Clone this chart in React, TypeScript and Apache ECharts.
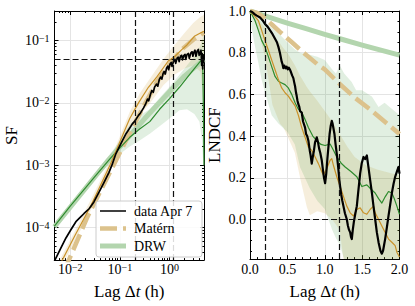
import React, { useEffect, useRef } from 'react';
import * as echarts from 'echarts';

const FONT = 'Liberation Serif, serif';

// ---------- Left panel: structure function (lag [h], SF) ----------
const sfData: [number, number][] = [
  [0.0048, 2.9e-5], [0.0052, 3.3e-5], [0.0065, 4.7e-5], [0.0082, 6.8e-5], [0.0103, 9.2e-5],
  [0.013, 1.24e-4], [0.0164, 1.49e-4], [0.019, 1.68e-4], [0.024, 2.0e-4], [0.03, 2.57e-4],
  [0.038, 3.7e-4], [0.048, 5.3e-4], [0.06, 7.6e-4], [0.07, 1.03e-3], [0.082, 1.49e-3],
  [0.095, 1.9e-3], [0.113, 2.5e-3], [0.13, 3.1e-3], [0.15, 3.7e-3], [0.178, 4.6e-3],
  [0.2, 5.1e-3], [0.237, 6.3e-3], [0.26, 6.9e-3], [0.3, 8.3e-3], [0.33, 9.6e-3],
  [0.36, 0.0115], [0.38, 0.0108], [0.41, 0.0135], [0.44, 0.0158], [0.47, 0.0148],
  [0.5, 0.018], [0.55, 0.02], [0.58, 0.0185], [0.62, 0.0235], [0.66, 0.026], [0.7, 0.024],
  [0.74, 0.0295], [0.78, 0.032], [0.82, 0.029], [0.87, 0.036], [0.92, 0.039], [0.96, 0.034],
  [1.02, 0.042], [1.08, 0.0445], [1.12, 0.0385], [1.2, 0.046], [1.28, 0.05], [1.33, 0.043],
  [1.42, 0.052], [1.5, 0.054], [1.56, 0.046], [1.66, 0.056], [1.76, 0.058], [1.82, 0.049],
  [1.95, 0.058], [2.05, 0.06], [2.12, 0.05], [2.25, 0.06], [2.4, 0.062], [2.5, 0.052],
  [2.7, 0.064], [2.85, 0.066], [2.95, 0.056], [3.1, 0.065], [3.25, 0.07], [3.4, 0.056],
  [3.6, 0.068], [3.8, 0.072], [3.95, 0.058], [4.15, 0.064], [4.3, 0.07], [4.45, 0.04],
  [4.55, 0.062], [4.65, 0.035], [4.75, 0.058], [4.85, 0.045], [4.94, 0.055],
];
const sfMaternMedian: [number, number][] = [
  [0.0048, 1.7e-5], [0.0063, 2.6e-5], [0.0126, 7.6e-5], [0.026, 2.24e-4], [0.063, 1.0e-3],
  [0.158, 5.6e-3], [0.237, 0.01], [0.375, 0.0178], [0.56, 0.0263], [0.94, 0.047],
  [1.26, 0.055], [1.74, 0.0708], [2.24, 0.085], [3.16, 0.117], [4.0, 0.13], [4.94, 0.141],
];
const sfMaternModel: [number, number][] = [
  [0.0075, 2.0e-5], [0.00955, 3.1e-5], [0.0223, 1.49e-4], [0.0479, 5.0e-4], [0.1637, 3.47e-3],
  [0.316, 9.5e-3], [0.562, 0.0219], [1.0, 0.0417], [1.778, 0.0724], [3.16, 0.107], [4.94, 0.133],
];
const sfDrwMedian: [number, number][] = [
  [0.0048, 1.05e-4], [0.01, 2.2e-4], [0.0316, 6.6e-4], [0.063, 1.26e-3], [0.1, 1.9e-3],
  [0.158, 2.8e-3], [0.25, 3.8e-3], [0.4, 5.0e-3], [0.63, 7.9e-3], [1.0, 0.0117],
  [1.58, 0.0178], [2.24, 0.0251], [3.16, 0.0355], [4.0, 0.0447], [4.55, 0.05],
  [4.7, 0.03], [4.8, 0.008], [4.94, 0.001],
];
const sfDrwModel: [number, number][] = [
  [0.0048, 1.03e-4], [0.0603, 1.24e-3], [0.316, 5.6e-3], [1.0, 0.0151], [2.0, 0.0269], [4.94, 0.05],
];
// [lag, lower, upper]
const sfMaternBand: [number, number, number][] = [
  [0.0048, 1.45e-5, 2.09e-5], [0.01, 4.37e-5, 6.3e-5], [0.025, 1.78e-4, 2.63e-4],
  [0.063, 7.9e-4, 1.17e-3], [0.158, 4.2e-3, 7.2e-3], [0.25, 6.3e-3, 0.0141],
  [0.41, 0.01, 0.0251], [0.75, 0.0191, 0.0501], [1.26, 0.0282, 0.0851], [2.0, 0.0355, 0.132],
  [3.0, 0.0398, 0.191], [4.2, 0.0316, 0.24], [4.6, 0.0158, 0.251], [4.94, 0.005, 0.263],
];
const sfDrwBand: [number, number, number][] = [
  [0.0048, 9.5e-5, 1.15e-4], [0.01, 2.0e-4, 2.4e-4], [0.0316, 5.9e-4, 7.4e-4],
  [0.063, 1.07e-3, 1.48e-3], [0.1, 1.51e-3, 2.5e-3], [0.158, 2.0e-3, 4.5e-3],
  [0.25, 2.5e-3, 6.3e-3], [0.4, 3.2e-3, 7.9e-3], [0.63, 4.2e-3, 0.012], [1.0, 5.6e-3, 0.0182],
  [1.58, 7.6e-3, 0.0282], [2.24, 7.9e-3, 0.0398], [3.16, 6.6e-3, 0.0562], [4.0, 5.0e-3, 0.0759],
  [4.5, 2.5e-3, 0.1], [4.94, 6.3e-4, 0.126],
];
const sfRefLags = [0.2, 1.2];
const sfRefLevel = 0.0533;

// ---------- Right panel: LNDCF (lag [h], value) ----------
const dcfData: [number, number][] = [
  [0, 1.0], [0.03, 0.995], [0.06, 0.985], [0.09, 0.978], [0.134, 0.969], [0.17, 0.955],
  [0.2, 0.938], [0.235, 0.925], [0.268, 0.907], [0.3, 0.89], [0.335, 0.867], [0.36, 0.85],
  [0.38, 0.828], [0.4, 0.8], [0.424, 0.757], [0.435, 0.745], [0.446, 0.726], [0.46, 0.738],
  [0.475, 0.725], [0.49, 0.733], [0.505, 0.72], [0.52, 0.728], [0.536, 0.718], [0.55, 0.705],
  [0.565, 0.69], [0.58, 0.678], [0.59, 0.66], [0.603, 0.639], [0.615, 0.61], [0.625, 0.592],
  [0.635, 0.57], [0.647, 0.553], [0.66, 0.54], [0.67, 0.52], [0.692, 0.513], [0.71, 0.47],
  [0.737, 0.441], [0.75, 0.41], [0.765, 0.4], [0.781, 0.378], [0.8, 0.33], [0.81, 0.31],
  [0.826, 0.268], [0.84, 0.3], [0.855, 0.33], [0.87, 0.37], [0.893, 0.394], [0.91, 0.37],
  [0.925, 0.34], [0.94, 0.32], [0.96, 0.284], [0.975, 0.24], [0.99, 0.2], [1.005, 0.174],
  [1.02, 0.22], [1.035, 0.29], [1.049, 0.347], [1.065, 0.41], [1.08, 0.45], [1.094, 0.473],
  [1.105, 0.46], [1.115, 0.44], [1.13, 0.41], [1.145, 0.36], [1.161, 0.315], [1.18, 0.25],
  [1.195, 0.19], [1.206, 0.158], [1.22, 0.12], [1.235, 0.09], [1.25, 0.064], [1.27, 0.03],
  [1.295, 0.001], [1.31, -0.03], [1.325, -0.05], [1.34, -0.062], [1.352, -0.085], [1.362, -0.094],
  [1.375, -0.05], [1.39, -0.01], [1.41, 0.03], [1.429, 0.064], [1.45, 0.14], [1.474, 0.221],
  [1.495, 0.27], [1.518, 0.3], [1.54, 0.29], [1.563, 0.307], [1.585, 0.25], [1.607, 0.19],
  [1.63, 0.13], [1.652, 0.064], [1.675, 0.0], [1.697, -0.062], [1.72, -0.11], [1.745, -0.15],
  [1.764, -0.164], [1.78, -0.15], [1.795, -0.12], [1.808, -0.094], [1.83, -0.04], [1.853, 0.017],
  [1.875, 0.07], [1.898, 0.127], [1.92, 0.17], [1.942, 0.205], [1.965, 0.23], [1.987, 0.252], [2.0, 0.22],
];
const dcfMaternMedian: [number, number][] = [
  [0, 1.0], [0.05, 0.98], [0.112, 0.954], [0.156, 0.907], [0.2, 0.859], [0.246, 0.812],
  [0.29, 0.765], [0.335, 0.718], [0.38, 0.671], [0.424, 0.631], [0.469, 0.608], [0.513, 0.592],
  [0.558, 0.568], [0.603, 0.545], [0.647, 0.5], [0.692, 0.441], [0.737, 0.394], [0.781, 0.347],
  [0.826, 0.331], [0.871, 0.3], [0.915, 0.268], [0.96, 0.229], [0.982, 0.213], [1.027, 0.244],
  [1.072, 0.284], [1.094, 0.292], [1.116, 0.26], [1.161, 0.205], [1.206, 0.158], [1.25, 0.111],
  [1.295, 0.064], [1.34, 0.032], [1.384, 0.017], [1.429, 0.048], [1.474, 0.056], [1.518, 0.032],
  [1.563, 0.025], [1.607, 0.048], [1.652, 0.064], [1.674, 0.032], [1.719, 0.001], [1.764, -0.031],
  [1.808, -0.062], [1.853, -0.094], [1.898, -0.109], [1.942, -0.125], [1.965, -0.157], [2.0, -0.18],
];
const dcfDrwMedian: [number, number][] = [
  [0, 1.0], [0.067, 0.954], [0.112, 0.907], [0.156, 0.859], [0.2, 0.828], [0.246, 0.781],
  [0.29, 0.733], [0.335, 0.686], [0.38, 0.663], [0.424, 0.655], [0.469, 0.647], [0.513, 0.631],
  [0.558, 0.6], [0.603, 0.56], [0.647, 0.529], [0.692, 0.513], [0.737, 0.48], [0.781, 0.441],
  [0.84, 0.4], [0.893, 0.378], [0.95, 0.36], [1.005, 0.355], [1.072, 0.362], [1.12, 0.33],
  [1.161, 0.3], [1.22, 0.27], [1.273, 0.252], [1.35, 0.23], [1.429, 0.205], [1.496, 0.158],
  [1.563, 0.166], [1.62, 0.145], [1.674, 0.127], [1.72, 0.1], [1.764, 0.079], [1.81, 0.11],
  [1.853, 0.134], [1.898, 0.127], [1.93, 0.1], [1.965, 0.064], [2.0, 0.025],
];
const dcfMaternModel: [number, number][] = [
  [0, 1.0], [0.1, 0.99], [0.2, 0.965], [0.3, 0.933], [0.4, 0.9], [0.56, 0.85], [0.7, 0.805],
  [0.9, 0.745], [1.0, 0.72], [1.2, 0.65], [1.4, 0.585], [1.6, 0.53], [1.8, 0.47], [2.0, 0.41],
];
const dcfDrwModel: [number, number][] = [
  [0, 1.0], [0.25, 0.971], [0.5, 0.942], [0.75, 0.915], [1.0, 0.888], [1.25, 0.862],
  [1.5, 0.836], [1.75, 0.812], [2.0, 0.788],
];
const dcfMaternBand: [number, number, number][] = [
  [0, 1, 1], [0.05, 0.96, 0.99], [0.1, 0.92, 0.965], [0.2, 0.78, 0.92], [0.3, 0.55, 0.885],
  [0.4, 0.46, 0.845], [0.45, 0.44, 0.82], [0.5, 0.4, 0.8], [0.6, 0.32, 0.74], [0.67, 0.2, 0.69],
  [0.76, 0.06, 0.635], [0.8, 0.02, 0.615], [0.9, 0.04, 0.57], [1.0, 0.03, 0.52], [1.1, 0.0, 0.47],
  [1.2, -0.05, 0.41], [1.25, -0.19, 0.38], [1.3, -0.19, 0.35], [1.4, -0.19, 0.3],
  [1.55, -0.19, 0.26], [1.7, -0.19, 0.24], [1.9, -0.19, 0.22], [2.0, -0.19, 0.215],
];
const dcfDrwBand: [number, number, number][] = [
  [0, 1, 1], [0.022, 0.92, 0.995], [0.067, 0.83, 0.98], [0.112, 0.75, 0.965], [0.156, 0.67, 0.955],
  [0.2, 0.61, 0.944], [0.29, 0.5, 0.92], [0.38, 0.46, 0.893], [0.5, 0.42, 0.85], [0.6, 0.36, 0.815],
  [0.67, 0.25, 0.8], [0.8, 0.15, 0.79], [0.9, 0.09, 0.78], [1.0, 0.05, 0.765], [1.1, -0.05, 0.72],
  [1.15, -0.09, 0.7], [1.2, -0.12, 0.74], [1.26, -0.19, 0.7], [1.36, -0.19, 0.66],
  [1.42, -0.19, 0.62], [1.5, -0.19, 0.62], [1.63, -0.19, 0.59], [1.72, -0.19, 0.54],
  [1.8, -0.19, 0.56], [1.9, -0.19, 0.53], [2.0, -0.19, 0.5],
];
const dcfRefLags = [0.2, 1.2];
const dcfRefLevel = 0.0;

// ---------- Ticks ----------
const sfXMajor = [0.01, 0.1, 1];
const sfYMajor = [1e-4, 1e-3, 1e-2, 1e-1];
const sfXMinor = [0.006, 0.007, 0.008, 0.009, 0.02, 0.03, 0.04, 0.05, 0.06, 0.07, 0.08, 0.09,
  0.2, 0.3, 0.4, 0.5, 0.6, 0.7, 0.8, 0.9, 2, 3, 4];
const sfYMinor = [4e-5, 5e-5, 6e-5, 7e-5, 8e-5, 9e-5, 2e-4, 3e-4, 4e-4, 5e-4, 6e-4, 7e-4, 8e-4, 9e-4,
  2e-3, 3e-3, 4e-3, 5e-3, 6e-3, 7e-3, 8e-3, 9e-3, 0.02, 0.03, 0.04, 0.05, 0.06, 0.07, 0.08, 0.09, 0.2];
const dcfXMajor = [0, 0.5, 1.0, 1.5, 2.0];
const dcfYMajor = [0, 0.2, 0.4, 0.6, 0.8, 1.0];
const dcfXMinor = [0.1, 0.2, 0.3, 0.4, 0.6, 0.7, 0.8, 0.9, 1.1, 1.2, 1.3, 1.4, 1.6, 1.7, 1.8, 1.9];
const dcfYMinor = [-0.15, -0.1, -0.05, 0.05, 0.1, 0.15, 0.25, 0.3, 0.35, 0.45, 0.5, 0.55,
  0.65, 0.7, 0.75, 0.85, 0.9, 0.95];

const SF_X = [0.00483, 4.94];
const SF_Y = [3.0e-5, 0.298];
const DCF_X = [0, 2];
const DCF_Y = [-0.19, 1.0];

const C_DATA = '#000000';
const C_MAT_LINE = '#c9922a';
const C_MAT_MODEL = '#dcc28c';
const C_MAT_BAND = 'rgba(200, 150, 40, 0.16)';
const C_DRW_LINE = '#2e8b2e';
const C_DRW_MODEL = '#b3d5ae';
const C_DRW_BAND = 'rgba(40, 140, 40, 0.14)';
const C_GRID = '#e4e4e4';

const logFmt = (v: number) => {
  const e = Math.round(Math.log10(v));
  return `{b|10}{s|${e < 0 ? '\u2212' + -e : e}}`;
};
const logRich = {
  b: { fontFamily: FONT, fontSize: 14, color: '#000', lineHeight: 14 },
  s: { fontFamily: FONT, fontSize: 10, color: '#000', lineHeight: 5, verticalAlign: 'top' },
};
const nameRich = {
  n: { fontFamily: FONT, fontSize: 17, color: '#000', lineHeight: 20 },
  i: { fontFamily: FONT, fontSize: 17, color: '#000', lineHeight: 20, fontStyle: 'italic' },
};

function mainAxis(o: any) {
  const isLog = o.type === 'log';
  return {
    type: o.type,
    logBase: isLog ? 10 : undefined,
    gridIndex: o.grid,
    position: o.position,
    min: o.min,
    max: o.max,
    name: o.name,
    nameLocation: 'middle',
    nameGap: o.nameGap,
    nameTextStyle: { rich: nameRich, fontFamily: FONT, fontSize: 17, color: '#000', lineHeight: 20 },
    axisLine: { show: true, onZero: false, lineStyle: { color: '#000', width: 1 } },
    axisTick: { show: true, inside: true, length: 4, customValues: o.major, lineStyle: { color: '#000', width: 1 } },
    axisLabel: {
      show: true,
      customValues: o.major,
      margin: o.margin,
      formatter: isLog ? logFmt : (v: number) => v.toFixed(1),
      rich: isLog ? logRich : undefined,
      fontFamily: FONT,
      fontSize: 14,
      color: '#000',
      showMinLabel: true,
      showMaxLabel: true,
    },
    splitLine: { show: true, lineStyle: { color: C_GRID, width: 1 } },
    minorTick: { show: false },
  };
}

function tickAxis(o: any) {
  return {
    type: o.type,
    logBase: o.type === 'log' ? 10 : undefined,
    gridIndex: o.grid,
    position: o.position,
    min: o.min,
    max: o.max,
    axisLine: { show: !!o.line, onZero: false, lineStyle: { color: '#000', width: 1 } },
    axisTick: { show: true, inside: true, length: o.len, customValues: o.values, lineStyle: { color: '#000', width: 1 } },
    axisLabel: { show: false },
    splitLine: { show: false },
  };
}

function bandSeries(band: [number, number, number][], color: string, xi: number, yi: number) {
  return {
    type: 'custom',
    xAxisIndex: xi,
    yAxisIndex: yi,
    silent: true,
    clip: true,
    z: 1,
    data: band,
    encode: { x: 0, y: [1, 2] },
    renderItem: (params: any, api: any) => {
      if (params.dataIndex !== 0) return { type: 'group', children: [] };
      const upper = band.map((d) => api.coord([d[0], d[2]]));
      const lower = band.map((d) => api.coord([d[0], d[1]])).reverse();
      const cs = params.coordSys;
      return {
        type: 'polygon',
        shape: { points: upper.concat(lower) },
        style: { fill: color },
        clipPath: { type: 'rect', shape: { x: cs.x, y: cs.y, width: cs.width, height: cs.height } },
      };
    },
  };
}

function lineSeries(data: [number, number][], color: string, width: number, xi: number, yi: number, z: number, dash?: number[], extra?: any) {
  return {
    type: 'line',
    xAxisIndex: xi,
    yAxisIndex: yi,
    data,
    symbol: 'none',
    silent: true,
    z,
    lineStyle: { color, width, type: dash || 'solid', cap: 'butt', join: 'round' },
    ...(extra || {}),
  };
}

function refLines(lags: number[], level: number) {
  return {
    silent: true,
    symbol: ['none', 'none'],
    label: { show: false },
    lineStyle: { color: '#111', width: 1.2, type: [6, 3] },
    data: [...lags.map((x) => ({ xAxis: x })), { yAxis: level }],
  };
}

const LG = { x: 96, y: 201, w: 106, h: 56 };

function buildOption() {
  return {
    animation: false,
    backgroundColor: '#fff',
    textStyle: { fontFamily: FONT },
    grid: [
      { left: 53.5, top: 11, width: 150.5, height: 253 },
      { left: 250, top: 11, width: 149.5, height: 253 },
    ],
    xAxis: [
      mainAxis({ type: 'log', grid: 0, position: 'bottom', min: SF_X[0], max: SF_X[1], major: sfXMajor, margin: 2,
        name: '{n|Lag \u0394}{i|t}{n| (h)}', nameGap: 17 }),
      tickAxis({ type: 'log', grid: 0, position: 'top', min: SF_X[0], max: SF_X[1], values: sfXMajor, len: 4, line: true }),
      tickAxis({ type: 'log', grid: 0, position: 'bottom', min: SF_X[0], max: SF_X[1], values: sfXMinor, len: 2 }),
      tickAxis({ type: 'log', grid: 0, position: 'top', min: SF_X[0], max: SF_X[1], values: sfXMinor, len: 2 }),
      mainAxis({ type: 'value', grid: 1, position: 'bottom', min: DCF_X[0], max: DCF_X[1], major: dcfXMajor, margin: 3,
        name: '{n|Lag \u0394}{i|t}{n| (h)}', nameGap: 17 }),
      tickAxis({ type: 'value', grid: 1, position: 'top', min: DCF_X[0], max: DCF_X[1], values: dcfXMajor, len: 4, line: true }),
      tickAxis({ type: 'value', grid: 1, position: 'bottom', min: DCF_X[0], max: DCF_X[1], values: dcfXMinor, len: 2 }),
      tickAxis({ type: 'value', grid: 1, position: 'top', min: DCF_X[0], max: DCF_X[1], values: dcfXMinor, len: 2 }),
    ],
    yAxis: [
      mainAxis({ type: 'log', grid: 0, position: 'left', min: SF_Y[0], max: SF_Y[1], major: sfYMajor, margin: 5,
        name: 'SF', nameGap: 31 }),
      tickAxis({ type: 'log', grid: 0, position: 'right', min: SF_Y[0], max: SF_Y[1], values: sfYMajor, len: 4, line: true }),
      tickAxis({ type: 'log', grid: 0, position: 'left', min: SF_Y[0], max: SF_Y[1], values: sfYMinor, len: 2 }),
      tickAxis({ type: 'log', grid: 0, position: 'right', min: SF_Y[0], max: SF_Y[1], values: sfYMinor, len: 2 }),
      mainAxis({ type: 'value', grid: 1, position: 'left', min: DCF_Y[0], max: DCF_Y[1], major: dcfYMajor, margin: 4,
        name: 'LNDCF', nameGap: 22 }),
      tickAxis({ type: 'value', grid: 1, position: 'right', min: DCF_Y[0], max: DCF_Y[1], values: dcfYMajor, len: 4, line: true }),
      tickAxis({ type: 'value', grid: 1, position: 'left', min: DCF_Y[0], max: DCF_Y[1], values: dcfYMinor, len: 2 }),
      tickAxis({ type: 'value', grid: 1, position: 'right', min: DCF_Y[0], max: DCF_Y[1], values: dcfYMinor, len: 2 }),
    ],
    series: [
      // left panel
      bandSeries(sfMaternBand, C_MAT_BAND, 0, 0),
      bandSeries(sfDrwBand, C_DRW_BAND, 0, 0),
      lineSeries(sfDrwModel, C_DRW_MODEL, 5, 0, 0, 2),
      lineSeries(sfMaternModel, C_MAT_MODEL, 4.5, 0, 0, 2, [17, 6]),
      lineSeries(sfDrwMedian, C_DRW_LINE, 1.2, 0, 0, 3),
      lineSeries(sfMaternMedian, C_MAT_LINE, 1.2, 0, 0, 3),
      lineSeries(sfData, C_DATA, 1.7, 0, 0, 4, undefined, { markLine: refLines(sfRefLags, sfRefLevel) }),
      // right panel
      bandSeries(dcfMaternBand, C_MAT_BAND, 4, 4),
      bandSeries(dcfDrwBand, C_DRW_BAND, 4, 4),
      lineSeries(dcfDrwModel, C_DRW_MODEL, 5, 4, 4, 2),
      lineSeries(dcfMaternModel, C_MAT_MODEL, 4.5, 4, 4, 2, [17, 6]),
      lineSeries(dcfDrwMedian, C_DRW_LINE, 1.2, 4, 4, 3),
      lineSeries(dcfMaternMedian, C_MAT_LINE, 1.2, 4, 4, 3),
      lineSeries(dcfData, C_DATA, 2.2, 4, 4, 4, undefined, { markLine: refLines(dcfRefLags, dcfRefLevel) }),
    ],
    graphic: [
      {
        type: 'rect', z: 100, silent: true,
        shape: { x: LG.x, y: LG.y, width: LG.w, height: LG.h, r: 3 },
        style: { fill: 'rgba(255,255,255,0.85)', stroke: '#cccccc', lineWidth: 1 },
      },
      { type: 'line', z: 101, silent: true, shape: { x1: 100, y1: 211, x2: 126, y2: 211 }, style: { stroke: C_DATA, lineWidth: 1.5 } },
      { type: 'line', z: 101, silent: true, shape: { x1: 100, y1: 228.5, x2: 126, y2: 228.5 }, style: { stroke: C_MAT_MODEL, lineWidth: 4.5, lineDash: [17, 6] } },
      { type: 'line', z: 101, silent: true, shape: { x1: 100, y1: 246, x2: 126, y2: 246 }, style: { stroke: C_DRW_MODEL, lineWidth: 5 } },
      { type: 'text', z: 101, silent: true, style: { text: 'data Apr 7', x: 134, y: 211, fontFamily: FONT, fontSize: 14, fill: '#000', verticalAlign: 'middle' } },
      { type: 'text', z: 101, silent: true, style: { text: 'Matérn', x: 134, y: 228.5, fontFamily: FONT, fontSize: 14, fill: '#000', verticalAlign: 'middle' } },
      { type: 'text', z: 101, silent: true, style: { text: 'DRW', x: 134, y: 246, fontFamily: FONT, fontSize: 14, fill: '#000', verticalAlign: 'middle' } },
    ],
  };
}

export default function App() {
  const ref = useRef<HTMLDivElement>(null);
  useEffect(() => {
    if (!ref.current) return;
    const chart = echarts.init(ref.current, null, { renderer: 'svg' });
    chart.setOption(buildOption() as any);
    return () => chart.dispose();
  }, []);
  return (
    <div
      ref={ref}
      style={{ position: 'fixed', left: 0, top: 0, width: 415, height: 306, background: '#fff' }}
    />
  );
}
